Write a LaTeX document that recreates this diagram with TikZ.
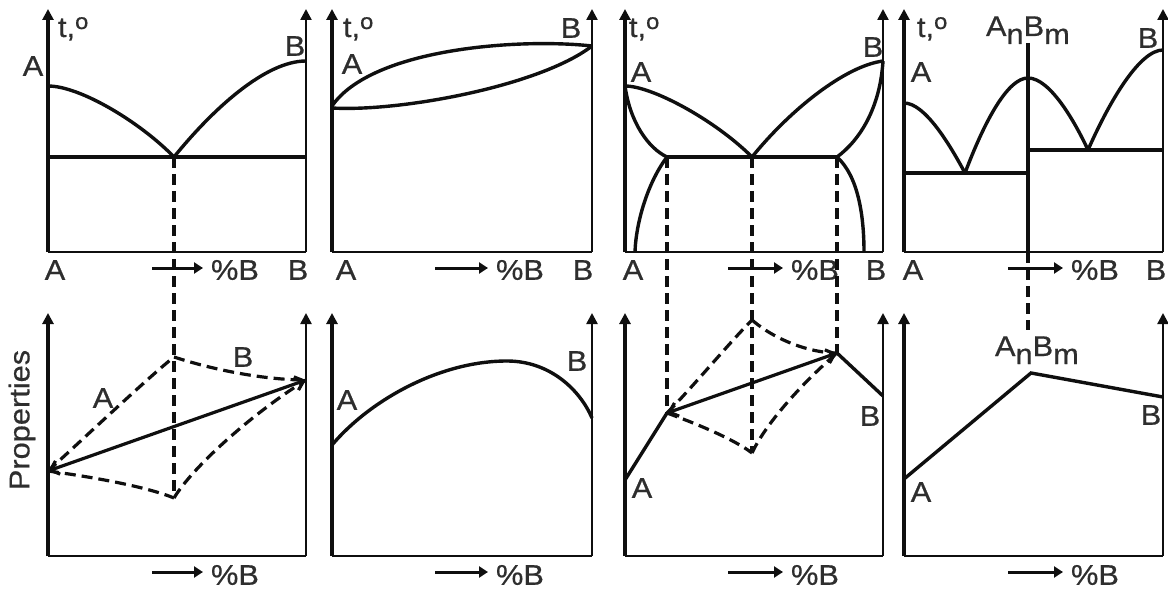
\documentclass[tikz,border=0pt]{standalone}
\usepackage{fontspec}
\setmainfont[FakeStretch=1.08,FakeBold=0.6]{Liberation Sans}
\usetikzlibrary{arrows.meta}
\definecolor{txt}{gray}{0.18}
\definecolor{ink}{gray}{0.06}
\begin{document}
\begin{tikzpicture}[x=1pt,y=-1pt,
  axis/.style={draw=ink,line width=3.2pt,-{Triangle[width=11pt,length=11pt]}},
  axisr/.style={draw=ink,line width=2.4pt,-{Triangle[width=11pt,length=11pt]}},
  base/.style={draw=ink,line width=2.4pt},
  curve/.style={draw=ink,line width=3.4pt},
  eut/.style={draw=ink,line width=4.4pt},
  dsh/.style={draw=ink,line width=3.2pt,dash pattern=on 11pt off 6pt},
  barb/.style={draw=ink,line width=3.2pt,{Straight Barb[length=8pt,width=14pt]}-{Straight Barb[length=8pt,width=14pt]}},
  parr/.style={draw=ink,line width=3pt,-{Triangle[width=11pt,length=9pt]},shorten >=8pt},
  lbl/.style={text=txt,inner sep=0pt,outer sep=0pt,font=\fontsize{28.5}{30}\selectfont},
]
\useasboundingbox (0,0) rectangle (1168,591);
\newcommand{\tlab}{t,\raisebox{8pt}{\fontsize{22}{22}\selectfont o}}
\newcommand{\anbm}{A\raisebox{-8pt}{n}B\raisebox{-8pt}{m}}

% ================= TOP ROW =================
% ---- Panel 1 ----
\coordinate (t1o) at (48,252);
\draw[axis] (t1o) -- (48,9);
\draw[axisr] (306,252) -- (306,9);
\draw[base] (t1o) -- (306,252);
\coordinate (e1) at (174,157);
\draw[curve] (48,86) .. controls (80,86) and (140,122) .. (e1);
\draw[curve] (e1) .. controls (212,110) and (265,61) .. (306,61);
\draw[eut] (48,157) -- (306,157);
\node[lbl,anchor=base west] (t1) at (58,37) {\tlab};
\node[lbl] (a1) at (33,66) {A};
\node[lbl] (b1) at (295,46) {B};
\node[lbl] (xa1) at (55,270) {A};
\node[lbl] (xb1) at (298,270) {B};
\node[lbl,anchor=west] (pb1) at (211,270) {\%B};
\coordinate (pa1) at (152,268);
\draw[parr] (pa1) -- (pb1.west |- pa1);

% ---- Panel 2 ----
\draw[axis] (332,252) -- (332,9);
\draw[axisr] (592,252) -- (592,9);
\draw[base] (332,252) -- (592,252);
\draw[curve] (332,106) .. controls (372,48) and (520,38) .. (592,46);
\draw[curve] (332,108) .. controls (400,112) and (540,86) .. (592,46);
\node[lbl,anchor=base west] (t2) at (343,37) {\tlab};
\node[lbl] (a2) at (352,64) {A};
\node[lbl] (b2) at (571,28) {B};
\node[lbl] (xa2) at (346,270) {A};
\node[lbl] (xb2) at (583,270) {B};
\node[lbl,anchor=west] (pb2) at (496,270) {\%B};
\coordinate (pa2) at (435,268);
\draw[parr] (pa2) -- (pb2.west |- pa2);

% ---- Panel 3 ----
\draw[axis] (625,252) -- (625,9);
\draw[axisr] (883,252) -- (883,9);
\draw[base] (625,252) -- (883,252);
\coordinate (pA3) at (625,86);
\coordinate (pB3) at (883,61);
\coordinate (l3) at (667,157);
\coordinate (e3) at (752,157);
\coordinate (r3) at (837,157);
\draw[curve] (pA3) .. controls (652,86) and (715,120) .. (e3);
\draw[curve] (pA3) .. controls (630,122) and (648,148) .. (l3);
\draw[curve] (l3) .. controls (648,182) and (636,222) .. (635,252);
\draw[curve] (e3) .. controls (790,110) and (845,66) .. (pB3);
\draw[curve] (pB3) .. controls (880,108) and (860,140) .. (r3);
\draw[curve] (r3) .. controls (858,176) and (864,215) .. (864,252);
\draw[eut] (l3) -- (r3);
\node[lbl,anchor=base west] (t3) at (629,37) {\tlab};
\node[lbl] (a3) at (641,72) {A};
\node[lbl] (b3) at (873,47) {B};
\node[lbl] (xa3) at (633,270) {A};
\node[lbl] (xb3) at (876,270) {B};
\node[lbl,anchor=west] (pb3) at (791,270) {\%B};
\coordinate (pa3) at (728,268);
\draw[parr] (pa3) -- (pb3.west |- pa3);

% ---- Panel 4 ----
\draw[axis] (904,252) -- (904,9);
\draw[axisr] (1163,252) -- (1163,9);
\draw[base] (904,252) -- (1163,252);
\coordinate (c4) at (1028,78);
\coordinate (e41) at (965,173);
\coordinate (e42) at (1088,150);
\draw[curve] (904,103) .. controls (925,103) and (950,145) .. (e41);
\draw[curve] (e41) .. controls (985,120) and (1008,78) .. (c4);
\draw[curve] (c4) .. controls (1050,78) and (1075,122) .. (e42);
\draw[curve] (e42) .. controls (1110,100) and (1140,50) .. (1163,50);
\draw[eut] (904,173) -- (1028,173);
\draw[eut] (1028,150) -- (1163,150);
\draw[curve] (1028,43) -- (1028,252);
\node[lbl,anchor=base west] (t4) at (917,37) {\tlab};
\node[lbl,anchor=base west] (ab4) at (986,36) {\anbm};
\node[lbl] (a4) at (921,72) {A};
\node[lbl] (b4) at (1148,38) {B};
\node[lbl] (xa4) at (913,270) {A};
\node[lbl] (xb4) at (1156,270) {B};
\node[lbl,anchor=west] (pb4) at (1071,270) {\%B};
\coordinate (pa4) at (1008,268);
\draw[parr] (pa4) -- (pb4.west |- pa4);

% ================= BOTTOM ROW =================
\node[lbl,rotate=90] (prop) at (22,420) {Properties};

% ---- Panel 1 ----
\draw[axis] (48,556) -- (48,313);
\draw[axisr] (306,556) -- (306,313);
\draw[base] (48,556) -- (306,556);
\coordinate (q1a) at (48,471);
\coordinate (q1b) at (306,380);
\coordinate (q1t) at (174,357);
\coordinate (q1d) at (174,498);
\draw[dsh] (q1a) .. controls (95,428) and (150,376) .. (q1t);
\draw[dsh] (q1t) .. controls (220,372) and (270,380) .. (q1b);
\draw[dsh] (q1a) .. controls (100,478) and (150,488) .. (q1d);
\draw[dsh] (q1d) .. controls (192,468) and (250,415) .. (q1b);
\draw[barb] (q1a) -- (q1b);
\draw[dsh] (e1) -- (q1d);
\node[lbl] (pa1l) at (103,398) {A};
\node[lbl] (pb1l) at (243,357) {B};
\node[lbl,anchor=west] (qb1) at (211,575) {\%B};
\coordinate (qa1) at (152,572);
\draw[parr] (qa1) -- (qb1.west |- qa1);

% ---- Panel 2 ----
\draw[axis] (332,556) -- (332,313);
\draw[axisr] (592,556) -- (592,313);
\draw[base] (332,556) -- (592,556);
\coordinate (m2) at (507,361);
\draw[curve] (332,445) .. controls (370,400) and (440,361) .. (m2);
\draw[curve] (m2) .. controls (550,361) and (580,390) .. (592,418);
\node[lbl] (pa2l) at (347,400) {A};
\node[lbl] (pb2l) at (577,361) {B};
\node[lbl,anchor=west] (qb2) at (496,575) {\%B};
\coordinate (qa2) at (435,572);
\draw[parr] (qa2) -- (qb2.west |- qa2);

% ---- Panel 3 ----
\draw[axis] (625,556) -- (625,313);
\draw[axisr] (883,556) -- (883,313);
\draw[base] (625,556) -- (883,556);
\coordinate (q3a) at (667,413);
\coordinate (q3b) at (837,353);
\coordinate (q3t) at (752,320);
\coordinate (q3d) at (752,453);
\draw[curve] (625,480) -- (q3a);
\draw[curve] (q3b) -- (883,396);
\draw[dsh] (q3a) .. controls (690,390) and (730,342) .. (q3t);
\draw[dsh] (q3t) .. controls (775,340) and (810,353) .. (q3b);
\draw[dsh] (q3a) .. controls (700,425) and (735,440) .. (q3d);
\draw[dsh] (q3d) .. controls (765,425) and (800,385) .. (q3b);
\draw[barb] (q3a) -- (q3b);
\draw[dsh] (l3) -- (q3a);
\draw[dsh] (e3) -- (q3d);
\draw[dsh] (r3) -- (q3b);
\node[lbl] (pa3l) at (642,488) {A};
\node[lbl] (pb3l) at (870,416) {B};
\node[lbl,anchor=west] (qb3) at (791,575) {\%B};
\coordinate (qa3) at (728,572);
\draw[parr] (qa3) -- (qb3.west |- qa3);

% ---- Panel 4 ----
\draw[axis] (904,556) -- (904,313);
\draw[axisr] (1163,556) -- (1163,313);
\draw[base] (904,556) -- (1163,556);
\coordinate (q4c) at (1031,373);
\draw[curve] (904,479) -- (q4c) -- (1163,397);
\draw[dsh] (1028,252) -- (1028,330);
\node[lbl,anchor=base west] (ab4b) at (995,356) {\anbm};
\node[lbl] (pa4l) at (921,492) {A};
\node[lbl] (pb4l) at (1151,415) {B};
\node[lbl,anchor=west] (qb4) at (1071,575) {\%B};
\coordinate (qa4) at (1008,572);
\draw[parr] (qa4) -- (qb4.west |- qa4);
\end{tikzpicture}
\end{document}
